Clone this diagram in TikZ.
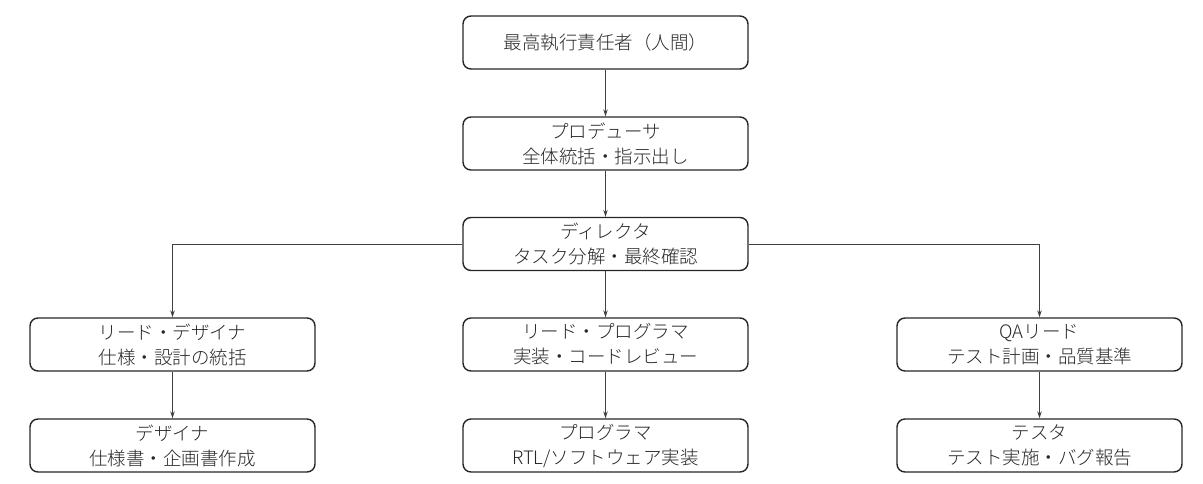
\documentclass[tikz,border=0pt]{standalone}
\usepackage{fontspec}
\newfontfamily\cjk{Noto Sans CJK JP}[UprightFont=* Light]
\usetikzlibrary{arrows.meta}
\tikzset{
  box/.style={draw=black!85, line width=1.4pt, rounded corners=8pt, minimum width=285pt, minimum height=53pt, align=center, font=\cjk\fontsize{18.5}{25}\selectfont, text=black!85, inner sep=0pt},
  conn/.style={draw=black!75, line width=0.9pt, -{Stealth[length=7pt,width=4.5pt]}}
}
\begin{document}
\begin{tikzpicture}[x=1pt,y=-1pt]
\useasboundingbox (0,0) rectangle (1203,483);
\node[box] (ceo) at (605.5,42.5) {最高執行責任者（人間）};
\node[box] (prod) at (605.5,143.5) {プロデューサ\\全体統括・指示出し};
\node[box] (dir) at (605.5,244) {ディレクタ\\タスク分解・最終確認};
\node[box] (ld) at (172.5,344.5) {リード・デザイナ\\仕様・設計の統括};
\node[box] (lp) at (605.5,344.5) {リード・プログラマ\\実装・コードレビュー};
\node[box] (lq) at (1039.5,344.5) {QAリード\\テスト計画・品質基準};
\node[box] (d) at (172.5,445.5) {デザイナ\\仕様書・企画書作成};
\node[box] (p) at (605.5,445.5) {プログラマ\\RTL/ソフトウェア実装};
\node[box] (t) at (1039.5,445.5) {テスタ\\テスト実施・バグ報告};
\draw[conn] (ceo) -- (prod);
\draw[conn] (prod) -- (dir);
\draw[conn] (dir) -- (lp);
\draw[conn] (dir.west) -| (ld.north);
\draw[conn] (dir.east) -| (lq.north);
\draw[conn] (ld) -- (d);
\draw[conn] (lp) -- (p);
\draw[conn] (lq) -- (t);
\end{tikzpicture}
\end{document}
